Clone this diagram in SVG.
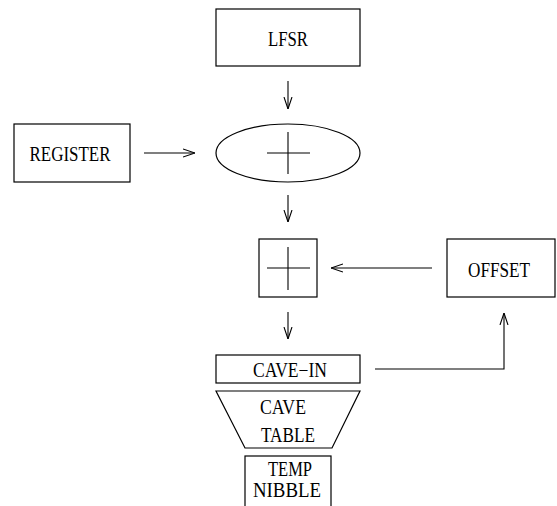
<svg xmlns="http://www.w3.org/2000/svg" width="557" height="506" viewBox="0 0 557 506">
  <style>
    .box { fill: none; stroke: #000; stroke-width: 1.2; }
    .wire { fill: none; stroke: #000; stroke-width: 1.1; }
    .lbl { font-family: "Liberation Serif", "Times New Roman", serif; font-size: 20px; fill: #000; text-anchor: middle; }
  </style>
  <defs>
    <marker id="arrow" viewBox="0 0 12 10" refX="12" refY="5" markerWidth="12" markerHeight="10" markerUnits="userSpaceOnUse" orient="auto">
      <polyline points="0,1 12,5 0,9" fill="none" stroke="#000" stroke-width="1.1"/>
    </marker>
  </defs>
  <rect width="557" height="506" fill="#fff"/>

  <g id="lfsr">
    <rect class="box" x="216" y="9" width="144" height="57"/>
    <text class="lbl" x="288" y="46" textLength="40" lengthAdjust="spacingAndGlyphs">LFSR</text>
  </g>

  <g id="register">
    <rect class="box" x="14" y="124" width="116" height="58"/>
    <text class="lbl" x="70" y="161" textLength="81" lengthAdjust="spacingAndGlyphs">REGISTER</text>
  </g>

  <g id="adder1">
    <ellipse class="box" cx="288" cy="153" rx="72" ry="29"/>
    <line class="wire" x1="267" y1="153" x2="310" y2="153"/>
    <line class="wire" x1="288" y1="132" x2="288" y2="174"/>
  </g>

  <g id="adder2">
    <rect class="box" x="259" y="239" width="58" height="58"/>
    <line class="wire" x1="267" y1="268" x2="310" y2="268"/>
    <line class="wire" x1="288" y1="247" x2="288" y2="290"/>
  </g>

  <g id="offset">
    <rect class="box" x="447" y="239" width="108" height="58"/>
    <text class="lbl" x="499" y="277" textLength="62" lengthAdjust="spacingAndGlyphs">OFFSET</text>
  </g>

  <g id="cave-in">
    <rect class="box" x="216" y="355" width="144" height="28"/>
    <text class="lbl" x="290" y="377" textLength="74" lengthAdjust="spacingAndGlyphs">CAVE−IN</text>
  </g>

  <g id="cave-table">
    <polygon class="box" points="216,391 360,391 332,448 245,448"/>
    <text class="lbl" x="283" y="414" textLength="46" lengthAdjust="spacingAndGlyphs">CAVE</text>
    <text class="lbl" x="288" y="442" textLength="54" lengthAdjust="spacingAndGlyphs">TABLE</text>
  </g>

  <g id="temp-nibble">
    <rect class="box" x="245" y="456" width="86" height="52"/>
    <text class="lbl" x="290" y="476" textLength="44" lengthAdjust="spacingAndGlyphs">TEMP</text>
    <text class="lbl" x="287" y="497" textLength="68" lengthAdjust="spacingAndGlyphs">NIBBLE</text>
  </g>

  <g id="connectors">
    <line class="wire" x1="288" y1="81" x2="288" y2="109" marker-end="url(#arrow)"/>
    <line class="wire" x1="144" y1="153" x2="195" y2="153" marker-end="url(#arrow)"/>
    <line class="wire" x1="288" y1="195" x2="288" y2="222" marker-end="url(#arrow)"/>
    <line class="wire" x1="432" y1="268" x2="331" y2="268" marker-end="url(#arrow)"/>
    <line class="wire" x1="288" y1="312" x2="288" y2="339" marker-end="url(#arrow)"/>
    <polyline class="wire" points="375,369 504,369 504,313" marker-end="url(#arrow)"/>
  </g>
</svg>
